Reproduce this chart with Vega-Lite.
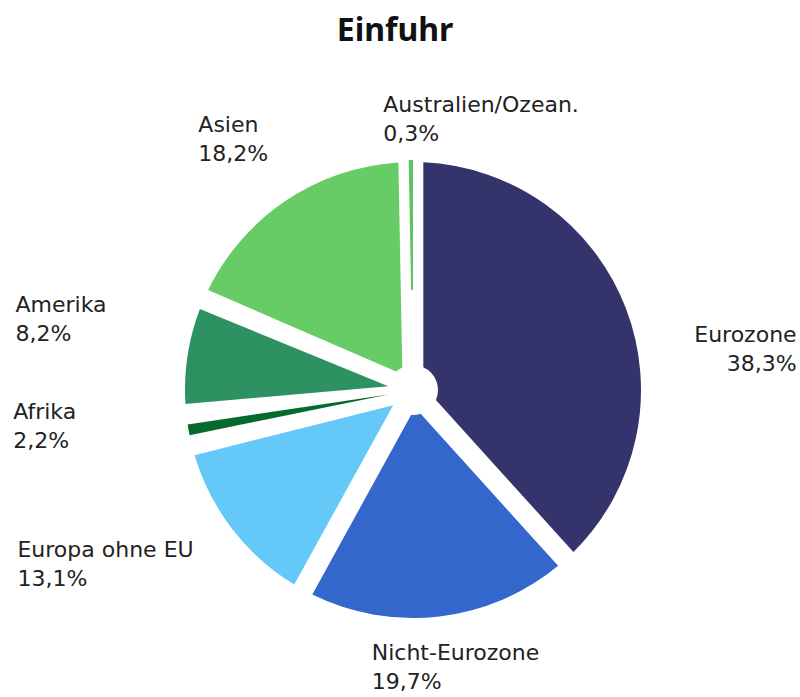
{
  "$schema": "https://vega.github.io/schema/vega-lite/v6.json",
  "autosize": {"type": "none"},
  "width": 774,
  "height": 614,
  "padding": {"top": 83, "left": 26, "right": 0, "bottom": 0},
  "background": "white",
  "config": {"view": {"stroke": null}},
  "title": {"text": "Einfuhr", "font": "Noto Sans", "fontSize": 32, "fontWeight": "bold", "color": "#111111", "anchor": "middle", "frame": "group", "baseline": "alphabetic", "offset": 0, "dx": -18, "dy": 196},
  "data": {"values": [
    {"rank": 1, "region": "Eurozone", "share": 38.3, "label": "Eurozone\n38,3%"},
    {"rank": 2, "region": "Nicht-Eurozone", "share": 19.7, "label": "Nicht-Eurozone\n19,7%"},
    {"rank": 3, "region": "Europa ohne EU", "share": 13.1, "label": "Europa ohne EU\n13,1%"},
    {"rank": 4, "region": "Afrika", "share": 2.2, "label": "Afrika\n2,2%"},
    {"rank": 5, "region": "Amerika", "share": 8.2, "label": "Amerika\n8,2%"},
    {"rank": 6, "region": "Asien", "share": 18.2, "label": "Asien\n18,2%"},
    {"rank": 7, "region": "Australien/Ozean.", "share": 0.3, "label": "Australien/Ozean.\n0,3%"}
  ]},
  "encoding": {
    "theta": {"field": "share", "type": "quantitative", "stack": true},
    "order": {"field": "rank", "type": "quantitative"}
  },
  "layer": [
    {
      "mark": {"type": "arc", "outerRadius": 228, "innerRadius": 25, "padAngle": 0.09},
      "encoding": {
        "color": {"field": "region", "type": "nominal", "legend": null,
          "scale": {"domain": ["Eurozone", "Nicht-Eurozone", "Europa ohne EU", "Afrika", "Amerika", "Asien", "Australien/Ozean."],
                    "range": ["#35336b", "#3467cc", "#64c8f8", "#046b2d", "#2e9162", "#67cc66", "#5ec45e"]}}
      }
    },
    {
      "mark": {"type": "arc", "outerRadius": 230, "innerRadius": 100},
      "encoding": {
        "color": {"field": "region", "type": "nominal", "legend": null},
        "opacity": {"condition": {"test": "datum.region === 'Australien/Ozean.'", "value": 1}, "value": 0}
      }
    },
    {
      "mark": {"type": "text", "radius": 265, "dx": -72, "align": "left", "baseline": "middle", "font": "DejaVu Sans", "fontSize": 22, "lineHeight": 29, "lineBreak": "\n", "fill": "#222222"},
      "encoding": {
        "text": {"field": "label"},
        "opacity": {"condition": {"test": "datum.region === 'Nicht-Eurozone'", "value": 1}, "value": 0}
      }
    },
    {
      "mark": {"type": "text", "radius": 319, "dx": -37, "align": "left", "baseline": "middle", "font": "DejaVu Sans", "fontSize": 22, "lineHeight": 29, "lineBreak": "\n", "fill": "#222222"},
      "encoding": {
        "text": {"field": "label"},
        "opacity": {"condition": {"test": "datum.region === 'Asien'", "value": 1}, "value": 0}
      }
    },
    {
      "mark": {"type": "text", "radius": 285, "dx": -27, "align": "left", "baseline": "middle", "font": "DejaVu Sans", "fontSize": 22, "lineHeight": 29, "lineBreak": "\n", "fill": "#222222"},
      "encoding": {
        "text": {"field": "label"},
        "opacity": {"condition": {"test": "datum.region === 'Australien/Ozean.'", "value": 1}, "value": 0}
      }
    },
    {
      "mark": {"type": "text", "radius": 402, "dy": -25, "align": "left", "baseline": "middle", "font": "DejaVu Sans", "fontSize": 22, "lineHeight": 29, "lineBreak": "\n", "fill": "#222222"},
      "encoding": {
        "text": {"field": "label"},
        "opacity": {"condition": {"test": "datum.region === 'Amerika'", "value": 1}, "value": 0}
      }
    },
    {
      "mark": {"type": "text", "radius": 402, "dx": -4, "dy": -48, "align": "left", "baseline": "middle", "font": "DejaVu Sans", "fontSize": 22, "lineHeight": 29, "lineBreak": "\n", "fill": "#222222"},
      "encoding": {
        "text": {"field": "label"},
        "opacity": {"condition": {"test": "datum.region === 'Afrika'", "value": 1}, "value": 0}
      }
    },
    {
      "mark": {"type": "text", "radius": 411, "dx": -70, "dy": -91, "align": "left", "baseline": "middle", "font": "DejaVu Sans", "fontSize": 22, "lineHeight": 29, "lineBreak": "\n", "fill": "#222222"},
      "encoding": {
        "text": {"field": "label"},
        "opacity": {"condition": {"test": "datum.region === 'Europa ohne EU'", "value": 1}, "value": 0}
      }
    },
    {
      "mark": {"type": "text", "radius": 380, "dx": 29, "dy": 82, "align": "right", "baseline": "middle", "font": "DejaVu Sans", "fontSize": 22, "lineHeight": 29, "lineBreak": "\n", "fill": "#222222"},
      "encoding": {
        "text": {"field": "label"},
        "opacity": {"condition": {"test": "datum.region === 'Eurozone'", "value": 1}, "value": 0}
      }
    }
  ]
}
